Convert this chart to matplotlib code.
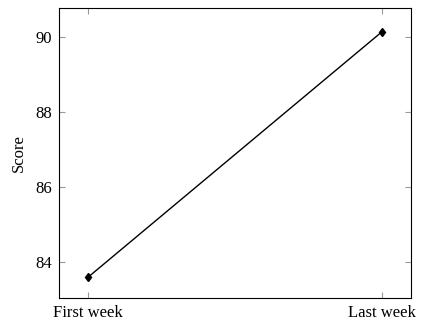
import matplotlib
matplotlib.use("Agg")
import matplotlib.pyplot as plt

# Data
weeks = ["First week", "Last week"]
scores = [83.6, 90.13]
y_ticks = [84, 86, 88, 90]

plt.rcParams["font.family"] = ["Liberation Serif", "DejaVu Serif"]

fig = plt.figure(figsize=(4.21, 3.25), dpi=100)
ax = fig.add_axes([59 / 421, 1 - 298 / 325, (411 - 59) / 421, (298 - 8) / 325])

x = list(range(len(weeks)))
ax.plot(x, scores, color="black", linewidth=1.0, marker="d", markersize=4.5,
        markerfacecolor="black", markeredgecolor="black")

ax.set_xlim(-0.1, 1.1)
ax.set_ylim(83.04, 90.77)
ax.set_xticks(x)
ax.set_xticklabels(weeks)
ax.set_yticks(y_ticks)
ax.set_ylabel("Score", fontsize=12, labelpad=6)

ax.tick_params(axis="both", direction="in", length=4, width=0.8, color="#999999",
               labelsize=12, top=True, right=True, pad=5)
for s in ax.spines.values():
    s.set_linewidth(0.8)

fig.savefig("out.png", dpi=100)
